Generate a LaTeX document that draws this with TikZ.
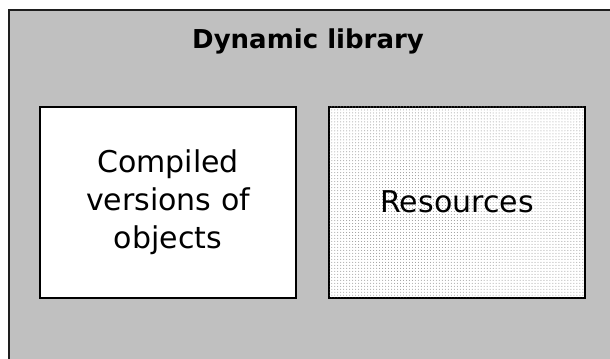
\documentclass[tikz,border=0pt]{standalone}
\usepackage{fontspec}
\setmainfont{DejaVu Sans}
\usepackage{tikz}
\usetikzlibrary{positioning, patterns}
\definecolor{panelgray}{RGB}{192, 192, 192}
\definecolor{framedark}{RGB}{30, 30, 30}
\tikzset{
  libframe/.style={draw=framedark, line width=2bp, fill=panelgray},
  partbox/.style={draw=black, line width=2bp, fill=white, minimum width=256bp, minimum height=191bp,
    align=center, inner sep=0pt, font=\fontsize{30bp}{38bp}\selectfont},
  resbox/.style={partbox, postaction={pattern=dots, pattern color=gray!85}}
}
\begin{document}
\begin{tikzpicture}[x=1bp, y=-1bp]
    \clip (0,0) rectangle (610,358);
    \fill[white] (0,0) rectangle (610,358);
    \draw[libframe] (9,10) rectangle (640,400);

    \node (title) [anchor=base, font=\fontsize{26bp}{30bp}\selectfont\bfseries] at (308,48) {Dynamic library};

    \node (compiled) [partbox] at (168,202) {Compiled\\versions of\\objects};
    \node (resources) [resbox, right=31bp of compiled] {Resources};
\end{tikzpicture}
\end{document}
